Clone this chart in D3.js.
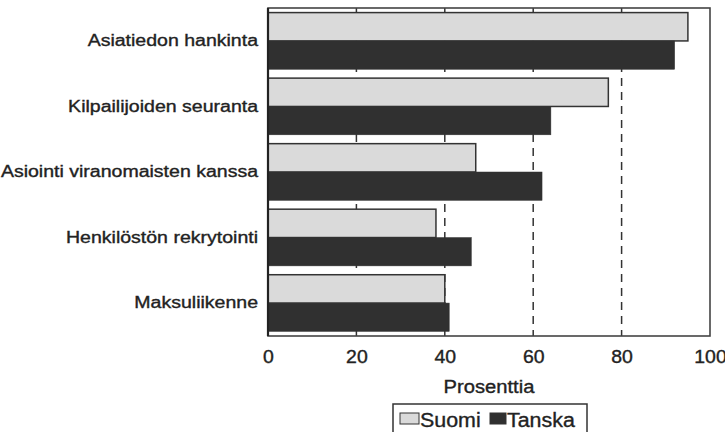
<!DOCTYPE html>
<html><head><meta charset="utf-8">
<script src="https://cdn.jsdelivr.net/npm/d3@7"></script>
<style>
html,body{margin:0;padding:0;background:#fff;}
svg text{font-family:"Liberation Sans",Arial,Helvetica,sans-serif;fill:#222;stroke:#222;stroke-width:0.35px;}
</style></head>
<body>
<svg id="chart" width="725" height="432"></svg>
<script>
const categories = ["Asiatiedon hankinta","Kilpailijoiden seuranta","Asiointi viranomaisten kanssa","Henkilöstön rekrytointi","Maksuliikenne"];
const seriesNames = ["Suomi","Tanska"];
const suomiValues = [95, 77, 47, 38, 40];
const tanskaValues = [92, 64, 62, 46, 41];
const xTicks = [0, 20, 40, 60, 80, 100];
const axisTitle = "Prosenttia";

const colors = {Suomi:"#dadada", Tanska:"#303030"};
const svg = d3.select("#chart");
const mLeft = 268, mRight = 710, mTop = 8, mBottom = 336;

function stretch(sel, f){
  sel.each(function(){
    const w = this.getComputedTextLength();
    d3.select(this).attr("textLength", w*f).attr("lengthAdjust","spacingAndGlyphs");
  });
}

const x = d3.scaleLinear().domain([0,100]).range([mLeft,mRight]);
const y = d3.scaleBand().domain(categories).range([mTop,mBottom]).paddingInner(0.135).paddingOuter(0.07);
const ySub = d3.scaleBand().domain(seriesNames).range([0,y.bandwidth()]);

const data = categories.map((c,i)=>({cat:c, Suomi:suomiValues[i], Tanska:tanskaValues[i]}));

// gridlines
svg.append("g").selectAll("line").data(xTicks.filter(t=>t>0&&t<100)).join("line")
  .attr("x1",d=>x(d)).attr("x2",d=>x(d)).attr("y1",mTop).attr("y2",mBottom)
  .attr("stroke","#333").attr("stroke-width",1.5).attr("stroke-dasharray","8,6");

// bars
const g = svg.append("g");
data.forEach(d=>{
  seriesNames.forEach(s=>{
    g.append("rect")
      .attr("x",x(0)).attr("y",y(d.cat)+ySub(s))
      .attr("width",x(d[s])-x(0)).attr("height",ySub.bandwidth())
      .attr("fill",colors[s]).attr("stroke","#333").attr("stroke-width",s==="Suomi"?1.5:0.5);
  });
});

// frame
svg.append("rect").attr("x",mLeft).attr("y",mTop).attr("width",mRight-mLeft).attr("height",mBottom-mTop)
  .attr("fill","none").attr("stroke","#444").attr("stroke-width",1.6);
svg.append("line").attr("x1",mLeft).attr("x2",mLeft).attr("y1",mTop).attr("y2",mBottom)
  .attr("stroke","#222").attr("stroke-width",2.2);

// x axis labels
const xAxis = d3.axisBottom(x).tickValues(xTicks).tickSize(0).tickPadding(14).tickFormat(d3.format("d"));
const ax = svg.append("g").attr("transform",`translate(0,${mBottom})`).call(xAxis);
ax.select(".domain").remove();
ax.selectAll("text").attr("font-size",18).style("font-family","'Liberation Sans',Arial,sans-serif").attr("fill","#222");
stretch(ax.selectAll("text"), 1.08);

// y labels
const yAxis = d3.axisLeft(y).tickSize(0).tickPadding(10);
const ay = svg.append("g").attr("transform",`translate(${mLeft},0)`).call(yAxis);
ay.select(".domain").remove();
ay.selectAll("text").attr("font-size",16).style("font-family","'Liberation Sans',Arial,sans-serif").attr("fill","#222");
stretch(ay.selectAll("text"), 1.22);

// axis title
const title = svg.append("text").attr("x",(mLeft+mRight)/2).attr("y",393).attr("text-anchor","middle")
  .attr("font-size",18).text(axisTitle);
stretch(title, 1.12);

// legend
const lg = svg.append("g");
lg.append("rect").attr("x",393).attr("y",404).attr("width",194).attr("height",40)
  .attr("fill","#fff").attr("stroke","#333").attr("stroke-width",1.5);
const legendX = [400, 490];
seriesNames.forEach((s,i)=>{
  lg.append("rect").attr("x",legendX[i]).attr("y",413).attr("width",i===0?19:16).attr("height",11)
    .attr("fill",colors[s]).attr("stroke","#333").attr("stroke-width",1);
  const t = lg.append("text").attr("x",legendX[i]+(i===0?20:17)).attr("y",427).attr("font-size",20).text(s);
  stretch(t, 1.07);
});
</script>
</body></html>
